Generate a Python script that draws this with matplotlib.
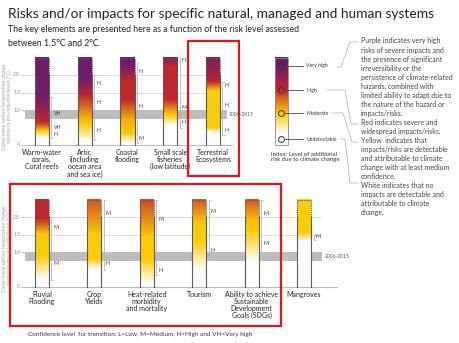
import numpy as np
import matplotlib
matplotlib.use('Agg')
import matplotlib.pyplot as plt
from matplotlib.colors import LinearSegmentedColormap
from matplotlib.patches import Rectangle
from matplotlib.lines import Line2D

plt.rcParams['font.family'] = ['Lato', 'DejaVu Sans']

# ---------------- data ----------------
level_colors = ['#FFFFFF', '#FDCB08', '#C1272D', '#6F1D6B']  # undetectable, moderate, high, very high

top_names = ["Warm-water\ncorals,\nCoral reefs", "Artic\n(including\nocean area\nand sea ice)",
             "Coastal\nflooding", "Small scale\nfisheries\n(low latitude)", "Terrestrial\nEcosystems"]
top_stops = [
    [(0.2, 0), (0.4, 1), (0.65, 2), (1.4, 3), (2.5, 3)],
    [(0.1, 0), (0.6, 1), (0.8, 1.2), (1.4, 2), (1.9, 3), (2.5, 3)],
    [(0.05, 0), (0.35, 1), (0.75, 1.2), (1.3, 2), (1.8, 2), (2.3, 3), (2.5, 3)],
    [(0.55, 0), (0.85, 1), (1.0, 1.3), (1.3, 2), (2.2, 2), (2.5, 2.8)],
    [(0.35, 0), (0.5, 1), (1.55, 1), (1.8, 2), (2.1, 2.5), (2.5, 2.8)],
]
top_conf = [
    [(0.3, 'H'), (0.5, 'VH'), (0.9, 'VH')],
    [(0.4, 'H'), (1.2, 'H'), (1.75, 'H')],
    [(0.2, 'M'), (1.1, 'H'), (2.1, 'H')],
    [(0.63, 'H'), (1.08, 'M'), (2.4, 'H')],
    [(0.4, 'H'), (1.14, 'H'), (1.7, 'H')],
]
top_brackets = [(0.2, 1.37), (0.15, 2.0), (0.05, 2.35), (0.5, 2.5), (0.3, 1.8)]

bot_names = ["Fluvial\nFlooding", "Crop\nYields", "Heat-related\nmorbidity\nand mortality", "Tourism",
             "Ability to achieve\nSustainable\nDevelopment\nGoals (SDGs)", "Mangroves"]
bot_stops = [
    [(0.2, 0), (0.9, 1), (1.5, 1), (1.95, 2), (2.5, 2)],
    [(0.5, 0), (0.8, 1), (1.5, 1), (2.5, 1.75)],
    [(0.1, 0), (0.8, 1), (1.4, 1), (2.5, 1.8)],
    [(0.5, 0), (1.3, 1), (1.8, 1), (2.5, 1.7)],
    [(0.7, 0), (1.6, 1), (1.9, 1.1), (2.5, 1.7)],
    [(1.3, 0), (1.55, 1), (2.5, 1)],
]
bot_conf = [
    [(0.66, 'M'), (1.7, 'M')],
    [(0.66, 'H'), (2.1, 'M')],
    [(0.46, 'H'), (1.94, 'M')],
    [(1.03, 'H'), (2.17, 'M')],
    [(1.23, 'M'), (2.1, 'M')],
    [(1.43, 'M')],
]
bot_brackets = [(0.2, 2.0), (0.5, 2.5), (0.35, 2.5), (0.9, 2.5), (1.0, 2.5), (1.35, 1.5)]

ember_top = 2.5
band = (0.75, 1.0)          # 2006-2015 warming
grid_levels = [1.5, 2.0]
ytick_vals = [0, 1.0, 1.5, 2.0]
ytick_labels = ["0", "1.0", "1.5", "2.0"]

index_names = ["Undetectable", "Moderate", "High", "Very high"]
index_temps = [0.17, 0.91, 1.57, 2.26]
index_stops = [(0.3, 0), (0.91, 1), (1.57, 2), (2.26, 3), (2.5, 3)]

desc_lines = ["Purple indicates very high", "risks of severe impacts and", "the presence of significant",
              "irreversibility or the", "persistence of climate-related", "hazards, combined with",
              "limited ability to adapt due to", "the nature of the hazard or", "impacts/risks.",
              "Red indicates severe and", "widespread impacts/risks.", "Yellow  indicates that",
              "impacts/risks are detectable", "and attributable to climate", "change with at least medium",
              "confidence.", "White indicates that no", "impacts are detectable and",
              "attributable to climate", "change."]

# ---------------- figure ----------------
W, H = 460, 343
fig = plt.figure(figsize=(W / 100, H / 100), dpi=100)
cmap = LinearSegmentedColormap.from_list('ember', level_colors)

def fx(x): return x / W
def fy(y): return 1 - y / H

def ftext(x, y, s, **kw):
    fig.text(fx(x), fy(y), s, **kw)

GRAY_TXT = '#8a8a8a'
LINE = '#5a5a5a'

def make_axes(y_top_px, y_bot_px, zero_px, px_per_deg, x0_px, dx_px):
    ax = fig.add_axes([0, fy(y_bot_px), 1, (y_bot_px - y_top_px) / H])
    ax.set_ylim(-(y_bot_px - zero_px) / px_per_deg, (zero_px - y_top_px) / px_per_deg)
    ax.set_xlim(-x0_px / dx_px, (W - x0_px) / dx_px)
    ax.axis('off')
    return ax

def draw_gradient(ax, xc, w, stops, zorder=3):
    t = np.linspace(0, ember_top, 400)
    st = np.array(stops)
    lv = np.interp(t, st[:, 0], st[:, 1]) / 3.0
    img = cmap(lv)[:, None, :]
    ax.imshow(img, extent=[xc - w / 2, xc + w / 2, 0, ember_top], origin='lower',
              aspect='auto', interpolation='bilinear', zorder=zorder)

def draw_panel(ax, names, stops, confs, brackets, w, px_unit, x_band_end, x_axis_end, band_label_x):
    xl = ax.get_xlim()
    x_start = (25 - 0) / px_unit + xl[0]
    # band
    ax.add_patch(Rectangle((x_start, band[0]), x_band_end - x_start, band[1] - band[0],
                           facecolor='#BDBDBD', edgecolor='none', zorder=1))
    ax.text(band_label_x, np.mean(band), "2006-2015", fontsize=3.6, color='#555555',
            va='center', ha='left')
    for g in grid_levels:
        ax.plot([x_start, x_axis_end - 0.3], [g, g], color='#cccccc', lw=0.5, zorder=0.5)
    ax.plot([x_start, x_axis_end], [0, 0], color='#bbbbbb', lw=0.8, zorder=0.5)
    for v, lab in zip(ytick_vals, ytick_labels):
        ax.plot([x_start - 4 / px_unit, x_start - 1 / px_unit], [v, v], color='#aaaaaa', lw=0.5)
        ax.text(x_start - 5 / px_unit, v, lab, fontsize=3.6, color=GRAY_TXT, ha='right', va='center')
    ax.text(xl[0] + 7 / px_unit, 1.1, "Global mean surface temperature change\nrelative to pre-industrial levels (°C)",
            rotation=90, fontsize=3.4, color='#a0a0a0', ha='center', va='center', linespacing=1.0)
    for i, (nm, st, cf, br) in enumerate(zip(names, stops, confs, brackets)):
        draw_gradient(ax, i, w, st)
        # outline: solid lower sides, dotted upper sides and top
        for side in (-1, 1):
            ax.plot([i + side * w / 2] * 2, [0, 2.0], color=LINE, lw=0.8, zorder=4)
            ax.plot([i + side * w / 2] * 2, [2.0, ember_top], color=LINE, lw=0.7,
                    ls=(0, (1.3, 0.9)), zorder=4)
        ax.plot([i - w / 2, i + w / 2], [ember_top, ember_top], color=LINE, lw=0.7,
                ls=(0, (1.3, 0.9)), zorder=4)
        # bracket
        bx = i + w / 2 + 2.5 / px_unit
        ax.plot([bx, bx], br, color='#b5b5b5', lw=0.6, zorder=2)
        for yy in br:
            ax.plot([bx, bx + 2 / px_unit], [yy, yy], color='#b5b5b5', lw=0.5, zorder=2)
        for tv, c in cf:
            ax.text(bx + 2 / px_unit, tv, c, fontsize=3.8, color='#333333', va='center', ha='left', zorder=5)
        ax.text(i, -0.12, nm, fontsize=5.0, color='#222222', ha='center', va='top', linespacing=1.0)

# top panel
ax1 = make_axes(40, 182, 145, 35, 42, 42.75)
draw_panel(ax1, top_names, top_stops, top_conf, top_brackets, 14 / 42.75, 42.75,
           (227 - 42) / 42.75, (232 - 42) / 42.75, (229 - 42) / 42.75)

# index legend (colour key)
xi = (281.5 - 42) / 42.75
wi = 13 / 42.75
draw_gradient(ax1, xi, wi, index_stops)
ax1.add_patch(Rectangle((xi - wi / 2, 0), wi, ember_top, fill=False, edgecolor='#888888', lw=0.6, zorder=4))
for nm, tv in zip(index_names, index_temps):
    ax1.plot([xi], [tv], marker='o', ms=4.2, mfc='none', mec='#333333', mew=0.7, zorder=6)
    ax1.plot([xi + 3.2 / 42.75, xi + 22 / 42.75], [tv, tv], color='#444444', lw=0.6, zorder=6)
    ax1.text(xi + 25 / 42.75, tv, nm, fontsize=3.7, color='#333333', va='center', ha='left')
ax1.text(xi - 10.5 / 42.75, -0.2, "Index: Level of additional\nrisk due to climate change",
         fontsize=4.3, color='#333333', ha='left', va='top', linespacing=1.05)

# bottom panel
ax2 = make_axes(188, 332, 287, 35, 42, 52.4)
draw_panel(ax2, bot_names, bot_stops, bot_conf, bot_brackets, 14 / 52.4, 52.4,
           (322 - 42) / 52.4, (337 - 42) / 52.4, (325 - 42) / 52.4)
ax2.text(-0.27, -1.37, "Confidence level  for transition: L=Low, M=Medium, H=High and VH=Very high",
         fontsize=4.6, color='#333333', ha='left', va='center')

# red highlight boxes (around ember groups)
ax1.add_patch(Rectangle((3.415, -0.886), 1.193, 3.856, fill=False, edgecolor='#E3141B', lw=1.6,
                        zorder=7, clip_on=False))
ax2.add_patch(Rectangle((-0.611, -1.114), 5.172, 4.057, fill=False, edgecolor='#E3141B', lw=1.6,
                        zorder=7, clip_on=False))

# titles
ftext(8, 14, "Risks and/or impacts for specific natural, managed and human systems",
      fontsize=9.9, color='#222222', va='center', ha='left')
ftext(8, 30, "The key elements are presented here as a function of the risk level assessed",
      fontsize=6.3, color='#222222', va='center', ha='left')
ftext(8, 43, "between 1.5°C and 2°C.", fontsize=6.3, color='#222222', va='center', ha='left')

# description text
for k, s in enumerate(desc_lines):
    ftext(361, 41 + k * 9.05, s, fontsize=5.0, color='#444444', va='center', ha='left')

# connector lines
conn = [
    [(337, 67), (341, 67), (350, 42), (358, 42)],
    [(327, 90), (345, 90), (351, 124), (358, 124)],
    [(332, 113), (343, 113), (352, 142), (358, 142)],
    [(341, 139), (345, 139), (350, 183), (358, 183)],
]
for pts in conn:
    xs = [fx(p[0]) for p in pts]
    ys = [fy(p[1]) for p in pts]
    fig.add_artist(Line2D(xs, ys, color='#aaaaaa', lw=0.5))

fig.savefig('out.png', dpi=100)
